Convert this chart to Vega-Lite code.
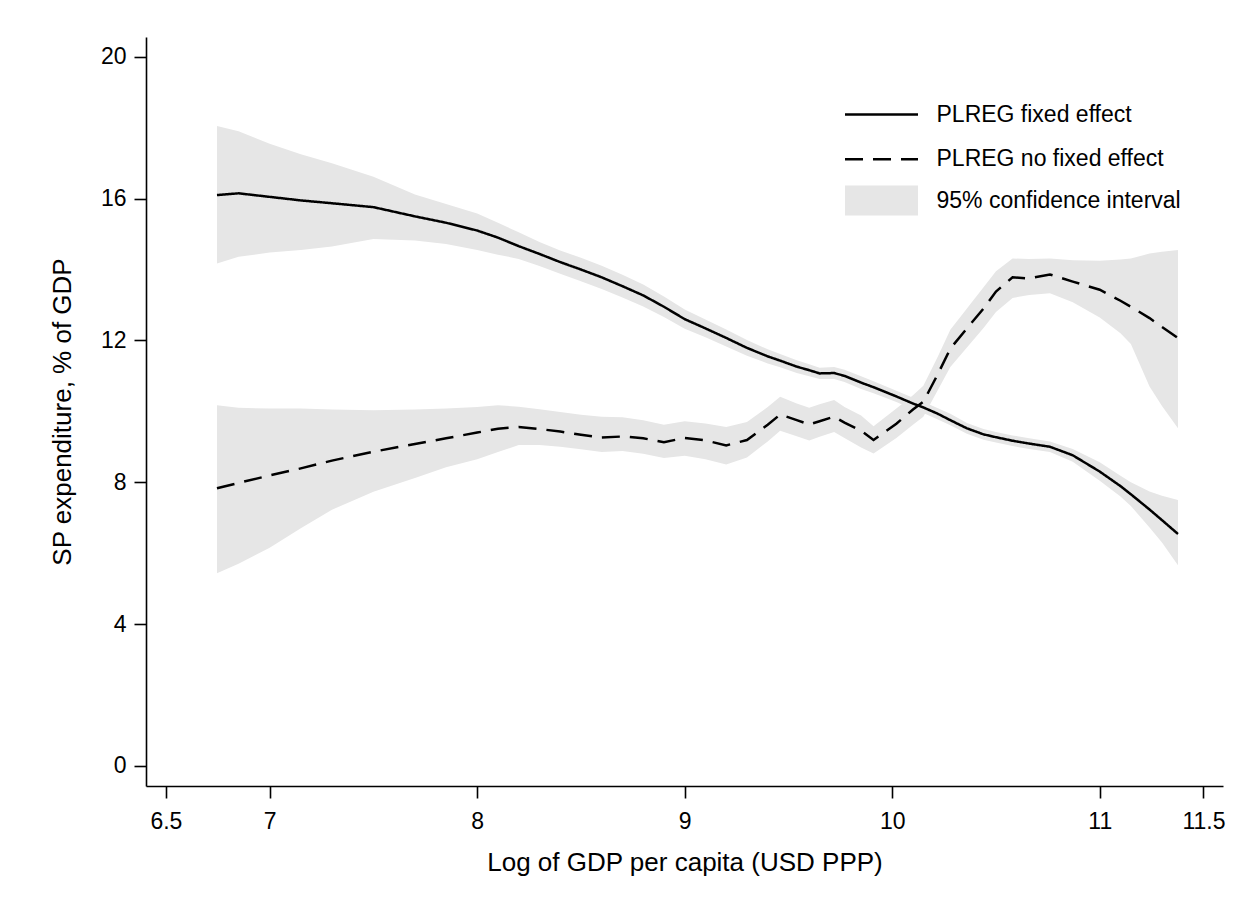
{
  "$schema": "https://vega.github.io/schema/vega-lite/v6.json",
  "width": 1077,
  "height": 749,
  "autosize": {"type": "none"},
  "padding": {"left": 146, "top": 37, "right": 33, "bottom": 123},
  "background": "white",
  "config": {"view": {"stroke": null}, "font": "Liberation Sans"},
  "datasets": {
    "bands": [
      {"x": 6.746, "b": "fe", "lo": 14.17, "hi": 18.05},
      {"x": 6.85, "b": "fe", "lo": 14.36, "hi": 17.90},
      {"x": 7.0, "b": "fe", "lo": 14.48, "hi": 17.55},
      {"x": 7.15, "b": "fe", "lo": 14.55, "hi": 17.25},
      {"x": 7.3, "b": "fe", "lo": 14.65, "hi": 17.00},
      {"x": 7.5, "b": "fe", "lo": 14.86, "hi": 16.62},
      {"x": 7.7, "b": "fe", "lo": 14.82, "hi": 16.12},
      {"x": 7.85, "b": "fe", "lo": 14.72, "hi": 15.85},
      {"x": 8.0, "b": "fe", "lo": 14.55, "hi": 15.58},
      {"x": 8.1, "b": "fe", "lo": 14.42, "hi": 15.32},
      {"x": 8.2, "b": "fe", "lo": 14.30, "hi": 15.05},
      {"x": 8.3, "b": "fe", "lo": 14.10, "hi": 14.78},
      {"x": 8.4, "b": "fe", "lo": 13.88, "hi": 14.54},
      {"x": 8.5, "b": "fe", "lo": 13.67, "hi": 14.33},
      {"x": 8.6, "b": "fe", "lo": 13.45, "hi": 14.11},
      {"x": 8.7, "b": "fe", "lo": 13.21, "hi": 13.85},
      {"x": 8.8, "b": "fe", "lo": 12.96, "hi": 13.58},
      {"x": 8.9, "b": "fe", "lo": 12.66, "hi": 13.24},
      {"x": 9.0, "b": "fe", "lo": 12.33, "hi": 12.87},
      {"x": 9.1, "b": "fe", "lo": 12.09, "hi": 12.59},
      {"x": 9.2, "b": "fe", "lo": 11.83, "hi": 12.31},
      {"x": 9.3, "b": "fe", "lo": 11.57, "hi": 12.01},
      {"x": 9.4, "b": "fe", "lo": 11.35, "hi": 11.75},
      {"x": 9.46, "b": "fe", "lo": 11.24, "hi": 11.62},
      {"x": 9.54, "b": "fe", "lo": 11.08, "hi": 11.44},
      {"x": 9.6, "b": "fe", "lo": 10.99, "hi": 11.33},
      {"x": 9.65, "b": "fe", "lo": 10.91, "hi": 11.23},
      {"x": 9.72, "b": "fe", "lo": 10.91, "hi": 11.25},
      {"x": 9.77, "b": "fe", "lo": 10.83, "hi": 11.17},
      {"x": 9.85, "b": "fe", "lo": 10.63, "hi": 10.99},
      {"x": 9.91, "b": "fe", "lo": 10.51, "hi": 10.85},
      {"x": 10.02, "b": "fe", "lo": 10.26, "hi": 10.58},
      {"x": 10.1, "b": "fe", "lo": 10.06, "hi": 10.38},
      {"x": 10.15, "b": "fe", "lo": 9.95, "hi": 10.27},
      {"x": 10.22, "b": "fe", "lo": 9.77, "hi": 10.09},
      {"x": 10.28, "b": "fe", "lo": 9.61, "hi": 9.93},
      {"x": 10.36, "b": "fe", "lo": 9.37, "hi": 9.67},
      {"x": 10.44, "b": "fe", "lo": 9.20, "hi": 9.50},
      {"x": 10.5, "b": "fe", "lo": 9.12, "hi": 9.42},
      {"x": 10.58, "b": "fe", "lo": 9.02, "hi": 9.32},
      {"x": 10.66, "b": "fe", "lo": 8.94, "hi": 9.24},
      {"x": 10.76, "b": "fe", "lo": 8.85, "hi": 9.15},
      {"x": 10.87, "b": "fe", "lo": 8.58, "hi": 8.94},
      {"x": 11.0, "b": "fe", "lo": 8.04, "hi": 8.56},
      {"x": 11.1, "b": "fe", "lo": 7.60, "hi": 8.18},
      {"x": 11.15, "b": "fe", "lo": 7.33, "hi": 8.00},
      {"x": 11.24, "b": "fe", "lo": 6.72, "hi": 7.74},
      {"x": 11.3, "b": "fe", "lo": 6.30, "hi": 7.62},
      {"x": 11.377, "b": "fe", "lo": 5.66, "hi": 7.50},
      {"x": 6.746, "b": "nfe", "lo": 5.43, "hi": 10.17},
      {"x": 6.85, "b": "nfe", "lo": 5.70, "hi": 10.10},
      {"x": 7.0, "b": "nfe", "lo": 6.15, "hi": 10.08},
      {"x": 7.15, "b": "nfe", "lo": 6.70, "hi": 10.08},
      {"x": 7.3, "b": "nfe", "lo": 7.22, "hi": 10.05},
      {"x": 7.5, "b": "nfe", "lo": 7.73, "hi": 10.03},
      {"x": 7.7, "b": "nfe", "lo": 8.12, "hi": 10.05},
      {"x": 7.85, "b": "nfe", "lo": 8.42, "hi": 10.08},
      {"x": 8.0, "b": "nfe", "lo": 8.65, "hi": 10.12},
      {"x": 8.1, "b": "nfe", "lo": 8.85, "hi": 10.17},
      {"x": 8.2, "b": "nfe", "lo": 9.05, "hi": 10.13},
      {"x": 8.3, "b": "nfe", "lo": 9.05, "hi": 10.06},
      {"x": 8.4, "b": "nfe", "lo": 9.00, "hi": 9.98},
      {"x": 8.5, "b": "nfe", "lo": 8.93, "hi": 9.90},
      {"x": 8.6, "b": "nfe", "lo": 8.85, "hi": 9.85},
      {"x": 8.7, "b": "nfe", "lo": 8.88, "hi": 9.83},
      {"x": 8.8, "b": "nfe", "lo": 8.80, "hi": 9.75},
      {"x": 8.9, "b": "nfe", "lo": 8.68, "hi": 9.62},
      {"x": 9.0, "b": "nfe", "lo": 8.75, "hi": 9.72},
      {"x": 9.1, "b": "nfe", "lo": 8.65, "hi": 9.66},
      {"x": 9.2, "b": "nfe", "lo": 8.50, "hi": 9.56},
      {"x": 9.3, "b": "nfe", "lo": 8.70, "hi": 9.70},
      {"x": 9.4, "b": "nfe", "lo": 9.15, "hi": 10.12},
      {"x": 9.46, "b": "nfe", "lo": 9.45, "hi": 10.41},
      {"x": 9.54, "b": "nfe", "lo": 9.30, "hi": 10.22},
      {"x": 9.6, "b": "nfe", "lo": 9.18, "hi": 10.10},
      {"x": 9.65, "b": "nfe", "lo": 9.28, "hi": 10.20},
      {"x": 9.72, "b": "nfe", "lo": 9.42, "hi": 10.32},
      {"x": 9.77, "b": "nfe", "lo": 9.25, "hi": 10.12},
      {"x": 9.85, "b": "nfe", "lo": 8.98, "hi": 9.88},
      {"x": 9.91, "b": "nfe", "lo": 8.81, "hi": 9.58},
      {"x": 10.02, "b": "nfe", "lo": 9.25, "hi": 10.08},
      {"x": 10.1, "b": "nfe", "lo": 9.62, "hi": 10.45},
      {"x": 10.15, "b": "nfe", "lo": 9.85, "hi": 10.72},
      {"x": 10.22, "b": "nfe", "lo": 10.60, "hi": 11.55},
      {"x": 10.28, "b": "nfe", "lo": 11.25, "hi": 12.30},
      {"x": 10.36, "b": "nfe", "lo": 11.80, "hi": 12.90},
      {"x": 10.44, "b": "nfe", "lo": 12.35, "hi": 13.50},
      {"x": 10.5, "b": "nfe", "lo": 12.80, "hi": 13.95},
      {"x": 10.58, "b": "nfe", "lo": 13.20, "hi": 14.31},
      {"x": 10.66, "b": "nfe", "lo": 13.28, "hi": 14.30},
      {"x": 10.76, "b": "nfe", "lo": 13.33, "hi": 14.31},
      {"x": 10.87, "b": "nfe", "lo": 13.08, "hi": 14.26},
      {"x": 11.0, "b": "nfe", "lo": 12.65, "hi": 14.25},
      {"x": 11.1, "b": "nfe", "lo": 12.20, "hi": 14.28},
      {"x": 11.15, "b": "nfe", "lo": 11.90, "hi": 14.31},
      {"x": 11.24, "b": "nfe", "lo": 10.70, "hi": 14.45},
      {"x": 11.3, "b": "nfe", "lo": 10.15, "hi": 14.50},
      {"x": 11.377, "b": "nfe", "lo": 9.52, "hi": 14.55}
    ],
    "lines": [
      {"x": 6.746, "s": "PLREG fixed effect", "y": 16.10},
      {"x": 6.85, "s": "PLREG fixed effect", "y": 16.15},
      {"x": 7.0, "s": "PLREG fixed effect", "y": 16.05},
      {"x": 7.15, "s": "PLREG fixed effect", "y": 15.95},
      {"x": 7.3, "s": "PLREG fixed effect", "y": 15.87},
      {"x": 7.5, "s": "PLREG fixed effect", "y": 15.76},
      {"x": 7.7, "s": "PLREG fixed effect", "y": 15.50},
      {"x": 7.85, "s": "PLREG fixed effect", "y": 15.32},
      {"x": 8.0, "s": "PLREG fixed effect", "y": 15.10},
      {"x": 8.1, "s": "PLREG fixed effect", "y": 14.90},
      {"x": 8.2, "s": "PLREG fixed effect", "y": 14.66},
      {"x": 8.3, "s": "PLREG fixed effect", "y": 14.44},
      {"x": 8.4, "s": "PLREG fixed effect", "y": 14.21},
      {"x": 8.5, "s": "PLREG fixed effect", "y": 14.00},
      {"x": 8.6, "s": "PLREG fixed effect", "y": 13.78},
      {"x": 8.7, "s": "PLREG fixed effect", "y": 13.53},
      {"x": 8.8, "s": "PLREG fixed effect", "y": 13.27},
      {"x": 8.9, "s": "PLREG fixed effect", "y": 12.95},
      {"x": 9.0, "s": "PLREG fixed effect", "y": 12.60},
      {"x": 9.1, "s": "PLREG fixed effect", "y": 12.34},
      {"x": 9.2, "s": "PLREG fixed effect", "y": 12.07},
      {"x": 9.3, "s": "PLREG fixed effect", "y": 11.79},
      {"x": 9.4, "s": "PLREG fixed effect", "y": 11.55},
      {"x": 9.46, "s": "PLREG fixed effect", "y": 11.43},
      {"x": 9.54, "s": "PLREG fixed effect", "y": 11.26},
      {"x": 9.6, "s": "PLREG fixed effect", "y": 11.16},
      {"x": 9.65, "s": "PLREG fixed effect", "y": 11.07},
      {"x": 9.72, "s": "PLREG fixed effect", "y": 11.08},
      {"x": 9.77, "s": "PLREG fixed effect", "y": 11.00},
      {"x": 9.85, "s": "PLREG fixed effect", "y": 10.81},
      {"x": 9.91, "s": "PLREG fixed effect", "y": 10.68},
      {"x": 10.02, "s": "PLREG fixed effect", "y": 10.42},
      {"x": 10.1, "s": "PLREG fixed effect", "y": 10.22},
      {"x": 10.15, "s": "PLREG fixed effect", "y": 10.11},
      {"x": 10.22, "s": "PLREG fixed effect", "y": 9.93},
      {"x": 10.28, "s": "PLREG fixed effect", "y": 9.75},
      {"x": 10.36, "s": "PLREG fixed effect", "y": 9.52},
      {"x": 10.44, "s": "PLREG fixed effect", "y": 9.35},
      {"x": 10.5, "s": "PLREG fixed effect", "y": 9.27},
      {"x": 10.58, "s": "PLREG fixed effect", "y": 9.17},
      {"x": 10.66, "s": "PLREG fixed effect", "y": 9.09},
      {"x": 10.76, "s": "PLREG fixed effect", "y": 9.00},
      {"x": 10.87, "s": "PLREG fixed effect", "y": 8.76},
      {"x": 11.0, "s": "PLREG fixed effect", "y": 8.30},
      {"x": 11.1, "s": "PLREG fixed effect", "y": 7.89},
      {"x": 11.15, "s": "PLREG fixed effect", "y": 7.66},
      {"x": 11.24, "s": "PLREG fixed effect", "y": 7.23},
      {"x": 11.3, "s": "PLREG fixed effect", "y": 6.93},
      {"x": 11.377, "s": "PLREG fixed effect", "y": 6.54},
      {"x": 6.746, "s": "PLREG no fixed effect", "y": 7.83},
      {"x": 6.85, "s": "PLREG no fixed effect", "y": 7.98},
      {"x": 7.0, "s": "PLREG no fixed effect", "y": 8.19},
      {"x": 7.15, "s": "PLREG no fixed effect", "y": 8.39},
      {"x": 7.3, "s": "PLREG no fixed effect", "y": 8.61},
      {"x": 7.5, "s": "PLREG no fixed effect", "y": 8.86},
      {"x": 7.7, "s": "PLREG no fixed effect", "y": 9.08},
      {"x": 7.85, "s": "PLREG no fixed effect", "y": 9.24},
      {"x": 8.0, "s": "PLREG no fixed effect", "y": 9.40},
      {"x": 8.1, "s": "PLREG no fixed effect", "y": 9.51},
      {"x": 8.2, "s": "PLREG no fixed effect", "y": 9.56},
      {"x": 8.3, "s": "PLREG no fixed effect", "y": 9.50},
      {"x": 8.4, "s": "PLREG no fixed effect", "y": 9.43},
      {"x": 8.5, "s": "PLREG no fixed effect", "y": 9.34},
      {"x": 8.6, "s": "PLREG no fixed effect", "y": 9.26},
      {"x": 8.7, "s": "PLREG no fixed effect", "y": 9.29},
      {"x": 8.8, "s": "PLREG no fixed effect", "y": 9.24},
      {"x": 8.9, "s": "PLREG no fixed effect", "y": 9.13},
      {"x": 9.0, "s": "PLREG no fixed effect", "y": 9.25},
      {"x": 9.1, "s": "PLREG no fixed effect", "y": 9.18},
      {"x": 9.2, "s": "PLREG no fixed effect", "y": 9.04},
      {"x": 9.3, "s": "PLREG no fixed effect", "y": 9.19},
      {"x": 9.4, "s": "PLREG no fixed effect", "y": 9.62},
      {"x": 9.46, "s": "PLREG no fixed effect", "y": 9.91},
      {"x": 9.54, "s": "PLREG no fixed effect", "y": 9.75},
      {"x": 9.6, "s": "PLREG no fixed effect", "y": 9.63},
      {"x": 9.65, "s": "PLREG no fixed effect", "y": 9.72},
      {"x": 9.72, "s": "PLREG no fixed effect", "y": 9.85},
      {"x": 9.77, "s": "PLREG no fixed effect", "y": 9.68},
      {"x": 9.85, "s": "PLREG no fixed effect", "y": 9.45},
      {"x": 9.91, "s": "PLREG no fixed effect", "y": 9.19},
      {"x": 10.02, "s": "PLREG no fixed effect", "y": 9.65},
      {"x": 10.1, "s": "PLREG no fixed effect", "y": 10.05},
      {"x": 10.15, "s": "PLREG no fixed effect", "y": 10.27},
      {"x": 10.22, "s": "PLREG no fixed effect", "y": 11.05},
      {"x": 10.28, "s": "PLREG no fixed effect", "y": 11.77},
      {"x": 10.36, "s": "PLREG no fixed effect", "y": 12.34},
      {"x": 10.44, "s": "PLREG no fixed effect", "y": 12.90},
      {"x": 10.5, "s": "PLREG no fixed effect", "y": 13.38},
      {"x": 10.58, "s": "PLREG no fixed effect", "y": 13.78},
      {"x": 10.66, "s": "PLREG no fixed effect", "y": 13.75},
      {"x": 10.76, "s": "PLREG no fixed effect", "y": 13.86},
      {"x": 10.87, "s": "PLREG no fixed effect", "y": 13.66},
      {"x": 11.0, "s": "PLREG no fixed effect", "y": 13.43},
      {"x": 11.1, "s": "PLREG no fixed effect", "y": 13.12},
      {"x": 11.15, "s": "PLREG no fixed effect", "y": 12.95},
      {"x": 11.24, "s": "PLREG no fixed effect", "y": 12.63},
      {"x": 11.3, "s": "PLREG no fixed effect", "y": 12.38},
      {"x": 11.377, "s": "PLREG no fixed effect", "y": 12.07}
    ]
  },
  "layer": [
    {
      "data": {"name": "bands"},
      "mark": {"type": "area", "interpolate": "linear"},
      "encoding": {
        "x": {
          "field": "x", "type": "quantitative",
          "title": "Log of GDP per capita (USD PPP)",
          "scale": {"domain": [6.404, 11.594], "nice": false, "zero": false},
          "axis": {
            "values": [6.5, 7, 8, 9, 10, 11, 11.5],
            "format": "~g",
            "grid": false,
            "domainColor": "black", "domainWidth": 1.6,
            "tickColor": "black", "tickWidth": 1.6, "tickSize": 12,
            "labelFont": "Liberation Sans", "labelFontSize": 23, "labelColor": "black",
            "labelPadding": 12, "labelFlush": false, "labelOverlap": false,
            "titleFont": "Liberation Sans", "titleFontSize": 26, "titleFontWeight": "normal",
            "titleColor": "black", "titlePadding": 16
          }
        },
        "y": {
          "field": "lo", "type": "quantitative",
          "title": "SP expenditure, % of GDP",
          "scale": {"domain": [-0.57, 20.56], "nice": false, "zero": false},
          "axis": {
            "values": [0, 4, 8, 12, 16, 20],
            "format": "d",
            "grid": false,
            "domainColor": "black", "domainWidth": 1.6,
            "tickColor": "black", "tickWidth": 1.6, "tickSize": 12,
            "labelFont": "Liberation Sans", "labelFontSize": 23, "labelColor": "black",
            "labelPadding": 8, "labelFlush": false, "labelOverlap": false,
            "titleFont": "Liberation Sans", "titleFontSize": 26, "titleFontWeight": "normal",
            "titleColor": "black", "titlePadding": 25
          }
        },
        "y2": {"field": "hi"},
        "detail": {"field": "b"},
        "fill": {
          "datum": "95% confidence interval", "type": "nominal",
          "scale": {"range": ["#e6e6e6"]},
          "legend": {
            "orient": "none", "legendX": 724, "legendY": 152,
            "title": null, "padding": 0,
            "symbolType": "M-3.65,-1.5L3.65,-1.5L3.65,1.5L-3.65,1.5Z",
            "symbolSize": 400, "symbolStrokeWidth": 0, "symbolOpacity": 1,
            "symbolOffset": 0, "labelOffset": 43.5,
            "labelFont": "Liberation Sans", "labelFontSize": 23, "labelColor": "black",
            "labelLimit": 400, "labelBaseline": "middle"
          }
        }
      }
    },
    {
      "data": {"name": "lines"},
      "mark": {"type": "line", "strokeWidth": 2.5, "color": "black"},
      "encoding": {
        "x": {"field": "x", "type": "quantitative", "title": "Log of GDP per capita (USD PPP)"},
        "y": {"field": "y", "type": "quantitative", "title": "SP expenditure, % of GDP"},
        "strokeDash": {
          "field": "s", "type": "nominal",
          "scale": {"domain": ["PLREG fixed effect", "PLREG no fixed effect"], "range": [[1, 0], [18, 10]]},
          "legend": {
            "orient": "none", "legendX": 724, "legendY": 66,
            "title": null, "padding": 0,
            "symbolType": "M-3.65,0L3.65,0",
            "symbolSize": 400, "symbolStrokeWidth": 2.5, "symbolStrokeColor": "black",
            "symbolFillColor": "transparent", "symbolOpacity": 1,
            "symbolOffset": 0, "labelOffset": 43.5, "rowPadding": 20.7,
            "labelFont": "Liberation Sans", "labelFontSize": 23, "labelColor": "black",
            "labelLimit": 400, "labelBaseline": "middle"
          }
        }
      }
    }
  ]
}
